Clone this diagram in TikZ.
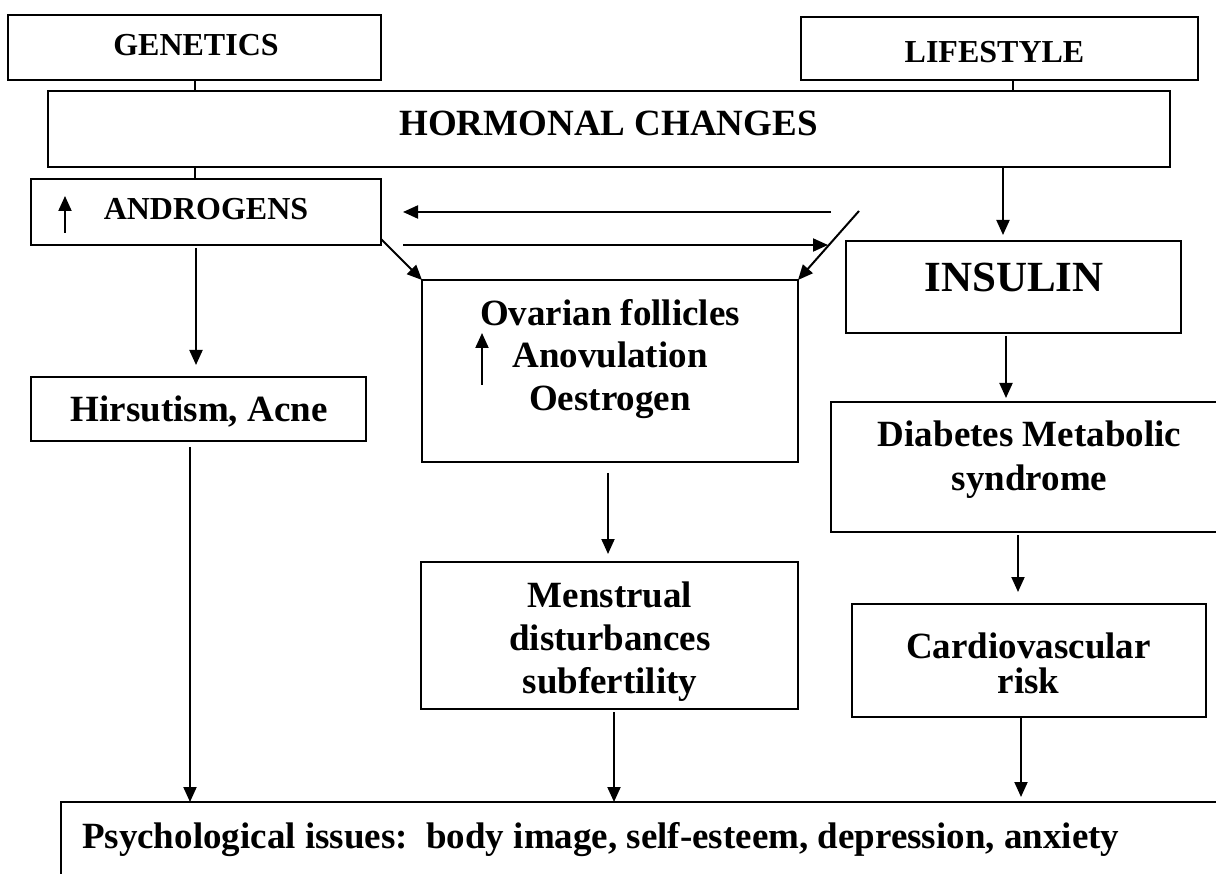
\documentclass[tikz,border=0pt]{standalone}
\usepackage{fontspec}
\setmainfont{Liberation Serif}
\usetikzlibrary{arrows.meta}
\newcommand\fz[1]{\fontsize{#1pt}{#1pt}\selectfont\bfseries}
\begin{document}
\begin{tikzpicture}[x=1pt,y=-1pt,
  box/.style={draw, line width=2pt, inner sep=0pt, outer sep=0pt, rectangle},
  ln/.style={line width=2pt},
  arr/.style={line width=2pt, -{Triangle[length=15pt,width=13pt]}},
  lbl/.style={inner sep=0pt, outer sep=0pt, anchor=base}]
\useasboundingbox (0,0) rectangle (1216,874);
\clip (0,0) rectangle (1216,874);
% boxes
\node[box, minimum width=373pt, minimum height=65pt] (gen) at (194.5,47.5) {};
\node[box, minimum width=397pt, minimum height=63pt] (life) at (999.5,48.5) {};
\node[box, minimum width=1122.5pt, minimum height=76pt] (horm) at (608.75,129) {};
\node[box, minimum width=350pt, minimum height=66pt] (andro) at (206,212) {};
\node[box, minimum width=335pt, minimum height=64pt] (hir) at (198.5,409) {};
\node[box, minimum width=376pt, minimum height=182pt] (ova) at (610,371) {};
\node[box, minimum width=377pt, minimum height=147pt] (mens) at (609.5,635.5) {};
\node[box, minimum width=335pt, minimum height=92pt] (ins) at (1013.5,287) {};
\node[box, minimum width=409pt, minimum height=130pt] (diab) at (1035.5,467) {};
\node[box, minimum width=354pt, minimum height=113pt] (cardio) at (1029,660.5) {};
\node[box, line width=2.7pt, minimum width=1179pt, minimum height=98pt] (psych) at (650.5,851) {};
% labels
\node[lbl, font=\fz{32}] (tgen) at (196,56) {GENETICS};
\node[lbl, font=\fz{32}] (tlife) at (994.5,63) {LIFESTYLE};
\node[lbl, font=\fz{37}] (thorm) at (608.5,136) {HORMONAL CHANGES};
\node[lbl, font=\fz{32}] (tandro) at (206,220) {ANDROGENS};
\node[lbl, font=\fz{37}] (thir) at (199,421.5) {Hirsutism, Acne};
\node[lbl, font=\fz{37}] (tova1) at (610,326) {Ovarian follicles};
\node[lbl, font=\fz{37}] (tova2) at (610,368) {Anovulation};
\node[lbl, font=\fz{37}] (tova3) at (610,411) {Oestrogen};
\node[lbl, font=\fz{43}] (tins) at (1014,292) {INSULIN};
\node[lbl, font=\fz{37}] (tdiab1) at (1029.5,447) {Diabetes Metabolic};
\node[lbl, font=\fz{37}] (tdiab2) at (1029.5,490) {syndrome};
\node[lbl, font=\fz{37}] (tcar1) at (1028.5,658) {Cardiovascular};
\node[lbl, font=\fz{37}] (tcar2) at (1028.5,693) {risk};
\node[lbl, font=\fz{37}] (tmen1) at (610,607) {Menstrual};
\node[lbl, font=\fz{37}] (tmen2) at (610,650) {disturbances};
\node[lbl, font=\fz{37}] (tmen3) at (610,693) {subfertility};
\node[lbl, anchor=base west, font=\fz{37}] (tpsy) at (82,848) {Psychological issues:~~body image, self-esteem, depression, anxiety};
% small up arrows (increase symbols)
\draw[arr] (65,233) -- (65,196);
\draw[arr] (482,385) -- (482,333);
% connectors
\draw[ln] (gen.south) -- (gen.south |- horm.north);
\draw[ln] ([xshift=13pt]life.south) -- ([xshift=13pt]life.south |- horm.north);
\draw[ln] (gen.south |- horm.south) -- (gen.south |- andro.north);
\draw[arr] ([xshift=-10.5pt]ins.north |- horm.south) -- ([xshift=-10.5pt,yshift=6pt]ins.north);
\draw[arr] ([xshift=-10pt,yshift=-3pt]andro.south) -- ([xshift=-2.5pt,yshift=12pt]hir.north);
\coordinate (fbR) at (831,212);
\coordinate (diagTop) at (859,211);
\coordinate (rTip) at (828,245);
\draw[arr] (fbR) -- ([xshift=22pt]andro.east);
\draw[arr] ([xshift=22pt,yshift=-33pt]andro.east) -- (rTip);
\draw[arr] ([yshift=6pt]andro.south east) -- (ova.north west);
\draw[arr] (diagTop) -- (ova.north east);
\draw[arr] ([xshift=-2pt,yshift=-11pt]ova.south) -- ([xshift=-1.5pt,yshift=8pt]mens.north);
\draw[arr] ([xshift=4.5pt,yshift=-3pt]mens.south) -- ([xshift=4.5pt]mens.south |- psych.north);
\draw[arr] ([xshift=-8.5pt,yshift=-6pt]hir.south) -- ([xshift=-8.5pt]hir.south |- psych.north);
\draw[arr] ([xshift=-7.5pt,yshift=-3pt]ins.south) -- ([xshift=-29.5pt,yshift=4pt]diab.north);
\draw[arr] ([xshift=-17.5pt,yshift=-3pt]diab.south) -- ([xshift=-11pt,yshift=12pt]cardio.north);
\draw[arr] ([xshift=-8pt]cardio.south) -- ([xshift=-8pt,yshift=5pt]cardio.south |- psych.north);
\end{tikzpicture}
\end{document}
